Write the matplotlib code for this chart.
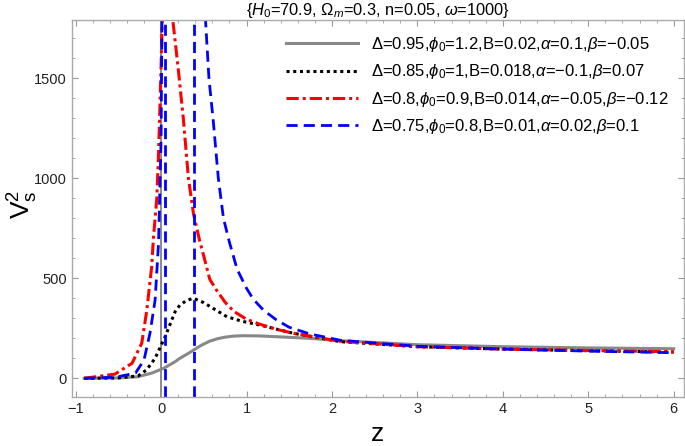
import numpy as np
import matplotlib
matplotlib.use("Agg")
import matplotlib.pyplot as plt
from matplotlib.ticker import MultipleLocator

plt.rcParams['font.family'] = ['Liberation Sans', 'DejaVu Sans']
plt.rcParams['mathtext.fontset'] = 'custom'
plt.rcParams['mathtext.rm'] = 'Liberation Sans'
plt.rcParams['mathtext.it'] = 'Liberation Sans:italic'

# values
z_gray = [-0.9, -0.5, -0.27, -0.11, 0.03, 0.164, 0.22, 0.3, 0.38, 0.47, 0.57, 0.66, 0.75, 0.85, 0.96, 1.15, 1.35, 1.74, 2.1, 3.0, 4.0, 5.0, 6.0]
v_gray = [0, 2, 8, 26, 50, 83, 100, 120, 141, 165, 186, 198, 206, 211, 213, 212, 208, 200, 188, 168, 158, 152, 148]

z_black = [-0.9, -0.5, -0.27, -0.17, -0.07, 0.047, 0.164, 0.22, 0.3, 0.38, 0.5, 0.6, 0.77, 0.95, 1.16, 1.55, 2.1, 3.0, 4.0, 5.0, 6.0]
v_black = [0, 2, 12, 42, 100, 208, 333, 366, 390, 400, 378, 352, 308, 285, 266, 225, 183, 158, 146, 138, 131]

z_red = [-0.9, -0.54, -0.34, -0.226, -0.167, -0.11, -0.09, -0.05, -0.03, 0.0, 0.02, 0.07, 0.12, 0.137,
         0.2, 0.26, 0.32, 0.38, 0.45, 0.5, 0.57, 0.65, 0.75, 0.85, 1.0, 1.16, 1.35, 1.55, 2.1, 3.0, 4.0, 5.0, 6.0]
v_red = [0, 21, 75, 176, 341, 558, 700, 900, 1120, 1560, 1900, 2300, 1950, 1791,
         1550, 1300, 1000, 820, 690, 610, 495, 440, 380, 335, 295, 270, 245, 225, 185, 158, 146, 139, 133]

z_blue_l = [-0.9, -0.54, -0.3, -0.2, -0.13, -0.07, -0.03, 0.0, 0.012, 0.02]
v_blue_l = [0, 5, 26, 91, 226, 391, 675, 1200, 1900, 3000]
z_blue_r = [0.5, 0.52, 0.56, 0.61, 0.67, 0.73, 0.8, 0.89, 1.0, 1.08, 1.2, 1.35, 1.5, 1.74, 2.1, 3.0, 4.0, 5.0, 6.0]
v_blue_r = [2300, 1791, 1500, 1290, 1000, 800, 680, 545, 450, 395, 340, 292, 255, 222, 190, 160, 146, 136, 128]
blue_poles = [0.047, 0.39]

labels = [
    r'$\Delta$=0.95,$\phi_0$=1.2,B=0.02,$\alpha$=0.1,$\beta$=$-$0.05',
    r'$\Delta$=0.85,$\phi_0$=1,B=0.018,$\alpha$=$-$0.1,$\beta$=0.07',
    r'$\Delta$=0.8,$\phi_0$=0.9,B=0.014,$\alpha$=$-$0.05,$\beta$=$-$0.12',
    r'$\Delta$=0.75,$\phi_0$=0.8,B=0.01,$\alpha$=0.02,$\beta$=0.1',
]

fig = plt.figure(figsize=(6.85, 4.46), dpi=100)
ax = fig.add_axes([0.1047, 0.1105, 0.8938, 0.8445])

ax.axvline(0, color='#777777', lw=1.2, zorder=1)

l1, = ax.plot(z_gray, v_gray, color='#888888', lw=2.2, label=labels[0])
l2, = ax.plot(z_black, v_black, color='black', lw=2.2, ls=(0, (1, 1.2)), label=labels[1])
l3, = ax.plot(z_red, v_red, color='red', lw=2.2, ls=(0, (4, 1.3, 1, 1.3)), label=labels[2])
l4, = ax.plot(z_blue_l, v_blue_l, color='blue', lw=2.0, ls=(0, (4, 2.2)), label=labels[3])
ax.plot(z_blue_r, v_blue_r, color='blue', lw=2.0, ls=(0, (4, 2.2)))
for p in blue_poles:
    ax.axvline(p, color='blue', lw=2.0, ls=(0, (4, 2.2)))

ax.set_xlim(-1.046, 6.12)
ax.set_ylim(-92, 1791)

ax.xaxis.set_major_locator(MultipleLocator(1))
ax.xaxis.set_minor_locator(MultipleLocator(0.2))
ax.yaxis.set_major_locator(MultipleLocator(500))
ax.yaxis.set_minor_locator(MultipleLocator(100))
ax.tick_params(which='both', direction='in', top=True, right=True, color='#999999', labelsize=10.5, labelcolor='#222222')
ax.tick_params(which='major', length=4)
ax.tick_params(which='minor', length=2.5)
for s in ax.spines.values():
    s.set_color('#aaaaaa')
    s.set_linewidth(1.0)

ax.set_xlabel('z', fontsize=19)
ax.xaxis.set_label_coords(0.5, -0.068)
ax.set_ylabel(r'$\mathregular{V_s^2}$', fontsize=19)
ax.yaxis.set_label_coords(-0.052, 0.51)
ax.set_title(r'{$H_0$=70.9, $\Omega_m$=0.3, n=0.05, $\omega$=1000}', fontsize=11.8, pad=3)

leg = ax.legend(handles=[l1, l2, l3, l4], loc='upper left', bbox_to_anchor=(0.35, 0.96),
                frameon=False, fontsize=12, handlelength=4.3, handletextpad=0.8, labelspacing=0.5,
                borderpad=0, borderaxespad=0)

fig.savefig('out.png', dpi=100)
